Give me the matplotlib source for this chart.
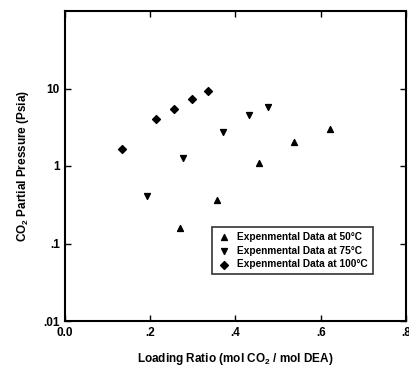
import matplotlib
matplotlib.use("Agg")
import matplotlib.pyplot as plt
from matplotlib.ticker import FixedLocator, FixedFormatter

plt.rcParams['font.family'] = ['Liberation Sans', 'DejaVu Sans']
plt.rcParams['font.weight'] = 'bold'
plt.rcParams['mathtext.fontset'] = 'custom'
plt.rcParams['mathtext.rm'] = 'Liberation Sans:bold'
plt.rcParams['mathtext.it'] = 'Liberation Sans:bold'

x50 = [0.270, 0.358, 0.455, 0.537, 0.622]
y50 = [0.16, 0.365, 1.10, 2.06, 2.96]
x75 = [0.192, 0.277, 0.370, 0.433, 0.477]
y75 = [0.416, 1.25, 2.73, 4.53, 5.79]
x100 = [0.135, 0.213, 0.256, 0.298, 0.335]
y100 = [1.67, 3.99, 5.51, 7.22, 9.4]

labels = ["Expenmental Data at 50\u00b0C", "Expenmental Data at 75\u00b0C", "Expenmental Data at 100\u00b0C"]
xticks = [0.0, 0.2, 0.4, 0.6, 0.8]
xticklabels = ["0.0", ".2", ".4", ".6", ".8"]
yticks = [0.01, 0.1, 1, 10]
yticklabels = [".01", ".1", "1", "10"]

fig = plt.figure(figsize=(4.09, 3.70), dpi=100)
ax = fig.add_axes([64.7/409, 1 - 321/370, (406-64.7)/409, (321-11)/370])
ax.set_yscale('log')
ax.scatter(x50, y50, marker='^', s=18, color='black', label=labels[0])
ax.scatter(x75, y75, marker='v', s=18, color='black', label=labels[1])
ax.scatter(x100, y100, marker='D', s=16, color='black', label=labels[2])
ax.set_xlim(0, 0.8)
ax.set_ylim(0.01, 100)
ax.xaxis.set_major_locator(FixedLocator(xticks))
ax.xaxis.set_major_formatter(FixedFormatter(xticklabels))
ax.yaxis.set_major_locator(FixedLocator(yticks))
ax.yaxis.set_major_formatter(FixedFormatter(yticklabels))
ax.yaxis.set_minor_locator(FixedLocator([]))
ax.tick_params(direction='in', length=4, width=1, labelsize=8.5, top=True, right=True)
ax.tick_params(axis='x', pad=4)
for s in ax.spines.values():
    s.set_linewidth(1.5)
ax.set_xlabel(r"Loading Ratio (mol CO$_2$ / mol DEA)", fontsize=8.5, fontweight='bold', labelpad=9)
ax.set_ylabel(r"CO$_2$ Partial Pressure (Psia)", fontsize=8.5, fontweight='bold', labelpad=9)
leg = ax.legend(loc='upper left', bbox_to_anchor=((207-64.7)/341.3, (321-222)/310), fontsize=7.3,
                frameon=True, fancybox=False, edgecolor='black', handletextpad=0.6,
                borderpad=0.5, labelspacing=0.35, handlelength=1.4)
leg.get_frame().set_linewidth(1.2)
fig.savefig("out.png", dpi=100)
